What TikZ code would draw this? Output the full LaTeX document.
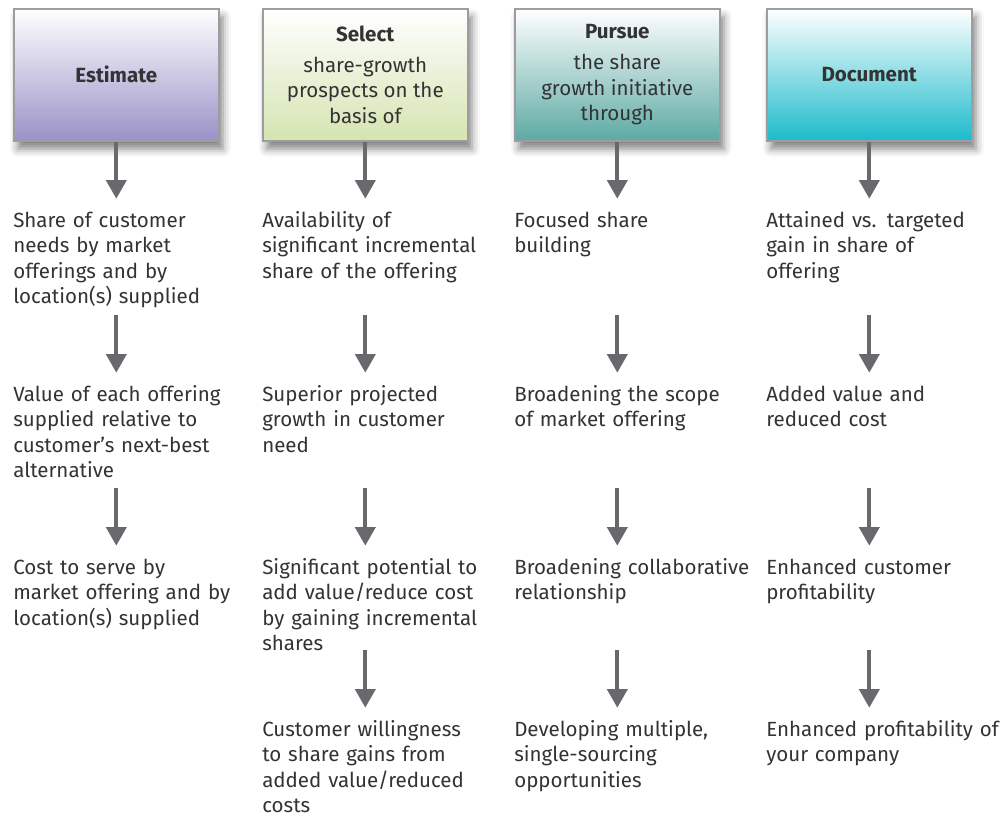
\documentclass[tikz,border=0pt]{standalone}
\usepackage{xcolor}
\usepackage{fontspec}
\setmainfont{Fira Sans}
\usepackage{tikz}
\usetikzlibrary{arrows.meta,shadows.blur}
\definecolor{ink}{HTML}{333335}
\definecolor{arrowgray}{HTML}{69696D}
\definecolor{framegray}{HTML}{9D9DA1}
\definecolor{lilac}{HTML}{9A92C8}
\definecolor{lime}{HTML}{D5E4B1}
\definecolor{sea}{HTML}{5DA9A3}
\definecolor{turquoise}{HTML}{1CBBCB}

\begin{document}
\begin{tikzpicture}[x=0.75pt,y=-0.75pt,every node/.style={font=\fontsize{15.4}{19.125}\selectfont,text=ink},
    head/.style={draw=framegray,line width=1.2pt,minimum width=153.75pt,minimum height=99pt,inner sep=0pt,anchor=north west,align=center,
      blur shadow={shadow xshift=3pt,shadow yshift=-6pt,shadow blur radius=6pt,shadow opacity=50}},
    cell/.style={anchor=base west,inner sep=0pt,text width=190pt,align=left,text height=21pt},
    flow/.style={draw=arrowgray,line width=3pt,-{Triangle[width=15pt,length=14pt]}}]
    \useasboundingbox (0,0) rectangle (1004,817);
    % header boxes
    \node[head,top color=white,bottom color=lilac] (est) at (13,8) {\textbf{Estimate}};
    \node[head,top color=white,bottom color=lime] (sel) at (262,8) {\textbf{Select}\\[4pt]share-growth\\prospects on the\\basis of};
    \node[head,top color=white,bottom color=sea] (pur) at (514,8) {\textbf{Pursue}\\[4pt]the share\\growth initiative\\through};
    \node[head,top color=white,bottom color=turquoise] (doc) at (766,8) {\textbf{Document}};
    % estimate column
    \node[cell,text depth=66pt] (e1) at (13,227) {Share of customer\\needs by market\\offerings and by\\location(s) supplied};
    \node[cell,text depth=65.25pt] (e2) at (13,401) {Value of each offering\\supplied relative to\\customer's next-best\\alternative};
    \node[cell,text depth=57pt] (e3) at (13,574) {Cost to serve by\\market offering and by\\location(s) supplied};
    % select column
    \node[cell,text depth=66pt] (s1) at (262,227) {Availability of\\significant incremental\\share of the offering};
    \node[cell,text depth=65.25pt] (s2) at (262,401) {Superior projected\\growth in customer\\need};
    \node[cell,text depth=57pt] (s3) at (262,574) {Significant potential to\\add value/reduce cost\\by gaining incremental\\shares};
    \node[cell] (s4) at (262,736) {Customer willingness\\to share gains from\\added value/reduced\\costs};
    % pursue column
    \node[cell,text depth=66pt] (p1) at (514,227) {Focused share\\building};
    \node[cell,text depth=65.25pt] (p2) at (514,401) {Broadening the scope\\of market offering};
    \node[cell,text depth=57pt] (p3) at (514,574) {Broadening collaborative\\relationship};
    \node[cell] (p4) at (514,736) {Developing multiple,\\single-sourcing\\opportunities};
    % document column
    \node[cell,text depth=66pt] (d1) at (766,227) {Attained vs. targeted\\gain in share of\\offering};
    \node[cell,text depth=65.25pt] (d2) at (766,401) {Added value and\\reduced cost};
    \node[cell,text depth=57pt] (d3) at (766,574) {Enhanced customer\\profitability};
    \node[cell] (d4) at (766,736) {Enhanced profitability of\\your company};
    % arrows
    \foreach \h/\c in {est/e,sel/s,pur/p,doc/d}
      \draw[flow] (\h) -- (\c1.north -| \h);
    \foreach \h/\a/\b in {est/e1/e2,est/e2/e3,sel/s1/s2,sel/s2/s3,sel/s3/s4,pur/p1/p2,pur/p2/p3,pur/p3/p4,doc/d1/d2,doc/d2/d3,doc/d3/d4}
      \draw[flow] (\a.south -| \h) -- (\b.north -| \h);
  \end{tikzpicture}
\end{document}
